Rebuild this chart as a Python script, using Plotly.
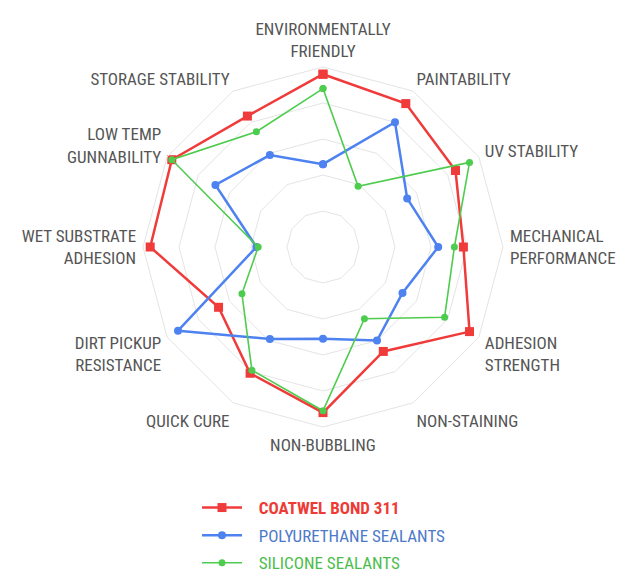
import plotly.graph_objects as go

categories = ["ENVIRONMENTALLY<br>FRIENDLY", "PAINTABILITY", "UV STABILITY",
              "MECHANICAL<br>PERFORMANCE", "ADHESION<br>STRENGTH", "NON-STAINING",
              "NON-BUBBLING", "QUICK CURE", "DIRT PICKUP<br>RESISTANCE",
              "WET SUBSTRATE<br>ADHESION", "LOW TEMP<br>GUNNABILITY", "STORAGE STABILITY"]

coatwel = [96, 92, 85, 78, 94, 67, 92, 81, 67, 96, 97, 84]
polyurethane = [46, 80, 54, 64, 51, 60, 51, 59, 93, 37, 69, 59]
silicone = [88, 39, 94, 73, 78, 46, 91, 79, 52, 36, 97, 74]

PAD = "\u00a0\u00a0\u00a0"
series_names = [PAD + '<b><span style="color:#ee3b36">COATWEL BOND 311</span></b>',
                PAD + '<span style="color:#4d79c9">POLYURETHANE SEALANTS</span>',
                PAD + '<span style="color:#4cbd4c">SILICONE SEALANTS</span>']

FONT = "Roboto Condensed, Roboto, sans-serif"

fig = go.Figure()

def closed(v):
    return v + [v[0]]

cats = closed(categories)

fig.add_trace(go.Scatterpolar(
    r=closed(coatwel), theta=cats, mode="lines+markers", name=series_names[0],
    line=dict(color="#f03b3b", width=2.5), marker=dict(symbol="square", size=9, color="#f03b3b"),
    legendgroup="a"))
fig.add_trace(go.Scatterpolar(
    r=closed(polyurethane), theta=cats, mode="lines+markers", name=series_names[1],
    line=dict(color="#4d82f0", width=2.5), marker=dict(symbol="circle", size=8, color="#4d82f0"),
    legendgroup="b"))
fig.add_trace(go.Scatterpolar(
    r=closed(silicone), theta=cats, mode="lines+markers", name=series_names[2],
    line=dict(color="#4dcc4d", width=1.6), marker=dict(symbol="circle", size=7, color="#4dcc4d"),
    legendgroup="c"))

fig.update_layout(
    width=617, height=572,
    margin=dict(l=0, r=0, t=0, b=0, autoexpand=False),
    paper_bgcolor="white", plot_bgcolor="white",
    font=dict(family=FONT, size=17, color="#555555"),
    polar=dict(
        domain=dict(x=[143/617, 503/617], y=[145/572, 505/572]),
        bgcolor="white",
        gridshape="linear",
        angularaxis=dict(rotation=90, direction="clockwise", showgrid=False,
                         showline=True, linecolor="#e4e4e4", linewidth=1,
                         ticks="outside", ticklen=3, tickcolor="rgba(0,0,0,0)",
                         tickfont=dict(family=FONT, size=17, color="#555555")),
        radialaxis=dict(range=[0, 100], tickvals=[20, 40, 60, 80, 100], showticklabels=False,
                        ticks="", showline=False, gridcolor="#e4e4e4", gridwidth=1),
    ),
    showlegend=True,
    legend=dict(x=197/617, y=1 - 490/572, xanchor="left", yanchor="top",
                font=dict(family=FONT, size=17),
                tracegroupgap=2.5, itemwidth=40, bgcolor="rgba(0,0,0,0)"),
)

fig.write_html("out.html", config={"displayModeBar": False},
               post_script="document.body.style.margin='0';")
